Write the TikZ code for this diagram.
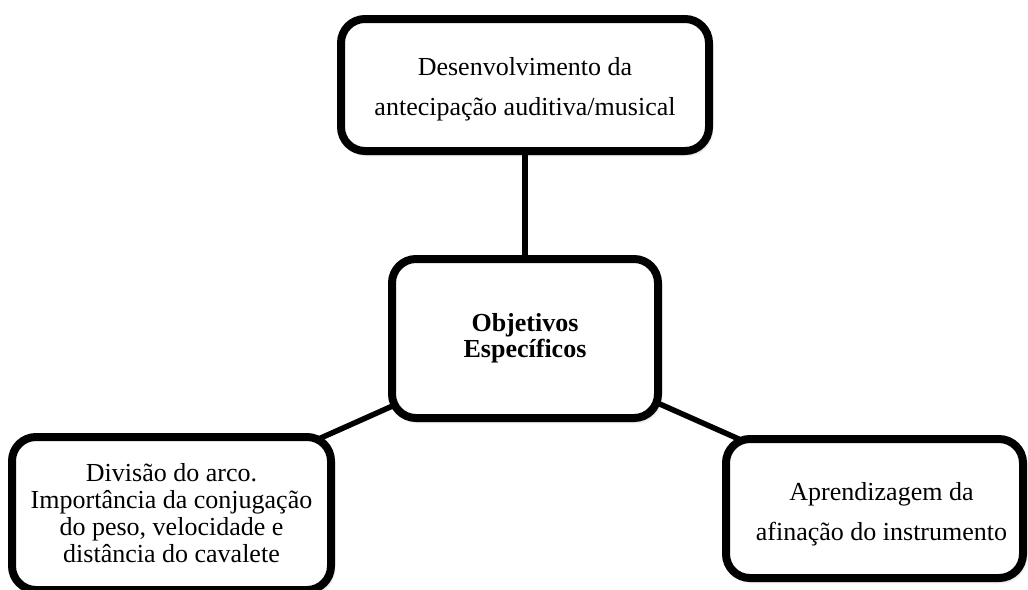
\documentclass[tikz,border=0pt]{standalone}
\usepackage{fontspec}
\setmainfont{Liberation Serif}
\usetikzlibrary{calc,shadows.blur,backgrounds}
\begin{document}
\begin{tikzpicture}[x=1pt,y=-1pt,
  box/.style={draw=black, line width=8pt, rounded corners=24pt, fill=white,
    inner sep=0pt, align=center,
    blur shadow={shadow xshift=2pt, shadow yshift=-3pt, shadow blur radius=3pt, shadow opacity=35}},
  link/.style={draw=black, line width=5.5pt}]
\useasboundingbox (0,0) rectangle (1028,589);
\node[box, minimum width=368pt, minimum height=132pt,
  font=\fontsize{26}{40}\selectfont] (top) at (525,85)
  {\rule{0pt}{26pt}Desenvolvimento da\\antecipação auditiva/musical};
\node[box, minimum width=266pt, minimum height=159pt,
  font=\fontsize{26}{26}\selectfont\bfseries] (c) at (525,338.5)
  {Objetivos\\Específicos};
\node[box, minimum width=319pt, minimum height=153pt,
  font=\fontsize{26}{27}\selectfont] (bl) at (171.5,513.5)
  {Divisão do arco.\\Importância da conjugação\\do peso, velocidade e\\distância do cavalete};
\node[box, minimum width=297pt, minimum height=139pt,
  font=\fontsize{26}{40}\selectfont] (br) at (874.5,508.5)
  {\rule{0pt}{30pt}\hspace*{14pt}Aprendizagem da\\\hspace*{14pt}afinação do instrumento};
\begin{scope}[on background layer]
  \draw[link] (top.south) -- (c.north);
  \draw[link] ($(c.south west)+(18,-22)$) -- ($(bl.north east)+(-21,8)$);
  \draw[link] ($(c.south east)+(-18,-25)$) -- ($(br.north west)+(19,5)$);
\end{scope}
\end{tikzpicture}
\end{document}
